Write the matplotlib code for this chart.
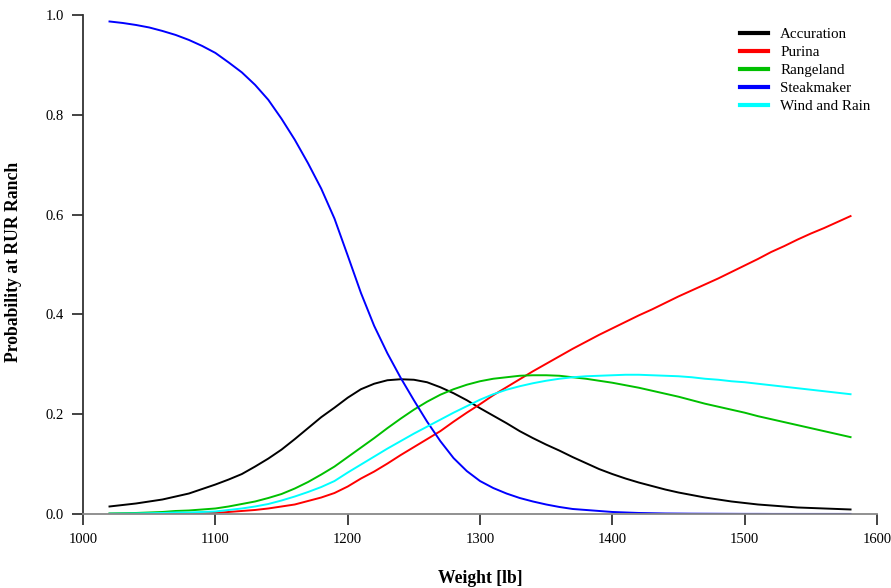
import numpy as np
import matplotlib.pyplot as plt

plt.rcParams['font.family'] = ['Liberation Serif', 'DejaVu Serif']

# Weight grid (lb), 1020 to 1580 every 10 lb
weight = list(range(1020, 1590, 10))

# Predicted probabilities
accuration = [0.015, 0.018, 0.021, 0.025, 0.029, 0.035, 0.041, 0.050, 0.059, 0.069,
              0.080, 0.095, 0.111, 0.129, 0.150, 0.172, 0.194, 0.213, 0.233, 0.250,
              0.261, 0.268, 0.270, 0.269, 0.264, 0.254, 0.242, 0.228, 0.212, 0.197,
              0.182, 0.166, 0.152, 0.139, 0.127, 0.114, 0.102, 0.090, 0.080, 0.071,
              0.063, 0.056, 0.049, 0.043, 0.038, 0.033, 0.029, 0.025, 0.022, 0.019,
              0.017, 0.015, 0.013, 0.012, 0.011, 0.010, 0.009]
purina = [0.0003, 0.0003, 0.0004, 0.0005, 0.0007, 0.0008, 0.001, 0.0012, 0.002, 0.004,
          0.006, 0.008, 0.011, 0.015, 0.019, 0.026, 0.033, 0.042, 0.055, 0.071,
          0.085, 0.101, 0.118, 0.134, 0.150, 0.166, 0.185, 0.203, 0.220, 0.238,
          0.254, 0.270, 0.286, 0.301, 0.316, 0.331, 0.345, 0.359, 0.372, 0.385,
          0.398, 0.410, 0.423, 0.436, 0.448, 0.460, 0.472, 0.485, 0.498, 0.511,
          0.525, 0.537, 0.550, 0.562, 0.573, 0.585, 0.597]
rangeland = [0.001, 0.0015, 0.002, 0.003, 0.004, 0.006, 0.007, 0.009, 0.011, 0.015,
             0.020, 0.025, 0.032, 0.040, 0.051, 0.064, 0.079, 0.095, 0.114, 0.133,
             0.152, 0.172, 0.191, 0.209, 0.225, 0.239, 0.250, 0.259, 0.266, 0.271,
             0.274, 0.277, 0.278, 0.278, 0.277, 0.274, 0.271, 0.267, 0.263, 0.258,
             0.253, 0.247, 0.241, 0.235, 0.228, 0.221, 0.215, 0.209, 0.203, 0.196,
             0.190, 0.184, 0.178, 0.172, 0.166, 0.160, 0.154]
steakmaker = [0.987, 0.984, 0.980, 0.975, 0.968, 0.960, 0.950, 0.938, 0.924, 0.905,
              0.885, 0.860, 0.830, 0.792, 0.750, 0.703, 0.652, 0.592, 0.518, 0.443,
              0.377, 0.322, 0.273, 0.228, 0.185, 0.146, 0.112, 0.086, 0.066, 0.052,
              0.041, 0.032, 0.025, 0.019, 0.014, 0.010, 0.008, 0.006, 0.004, 0.003,
              0.002, 0.0015, 0.001, 0.0008, 0.0006, 0.0005, 0.0004, 0.0003, 0.0002, 0.0002,
              0.0001, 0.0001, 0.0001, 0.0001, 0.0001, 0.0001, 0.0001]
wind_rain = [0.0005, 0.0007, 0.001, 0.0015, 0.002, 0.003, 0.003, 0.004, 0.005, 0.008,
             0.011, 0.015, 0.020, 0.027, 0.035, 0.044, 0.054, 0.066, 0.083, 0.099,
             0.115, 0.131, 0.146, 0.161, 0.175, 0.189, 0.203, 0.216, 0.229, 0.240,
             0.249, 0.256, 0.262, 0.267, 0.271, 0.274, 0.276, 0.277, 0.278, 0.279,
             0.279, 0.278, 0.277, 0.276, 0.274, 0.271, 0.269, 0.266, 0.264, 0.261,
             0.258, 0.255, 0.252, 0.249, 0.246, 0.243, 0.240]

series = [("Accuration", accuration, "black"),
          ("Purina", purina, "#ff0000"),
          ("Rangeland", rangeland, "#00c000"),
          ("Steakmaker", steakmaker, "#0000ff"),
          ("Wind and Rain", wind_rain, "#00ffff")]

fig = plt.figure(figsize=(8.91, 5.88), dpi=100)
ax = fig.add_axes([0.0932, 0.1259, 0.8911, 0.8486])

for name, vals, col in series:
    ax.plot(weight, vals, color=col, linewidth=1.4, label=name)

ax.set_xlim(1000, 1600)
ax.set_ylim(0, 1.0)
ax.set_xticks([1000, 1100, 1200, 1300, 1400, 1500, 1600])
ax.set_yticks([0.0, 0.2, 0.4, 0.6, 0.8, 1.0])
ax.set_yticklabels(['0.0', '0.2', '0.4', '0.6', '0.8', '1.0'])
ax.tick_params(direction='out', length=8, width=1.2, labelsize=10.5, color='#222222', pad=6)

for s in ['top', 'right']:
    ax.spines[s].set_visible(False)
ax.spines['left'].set_color('#333333')
ax.spines['bottom'].set_color('#888888')
ax.spines['left'].set_linewidth(1.3)
ax.spines['bottom'].set_linewidth(1.3)

ax.set_xlabel('Weight [lb]', fontsize=12.7, fontweight='bold', labelpad=17)
ax.set_ylabel('Probability at RUR Ranch', fontsize=12.7, fontweight='bold')
ax.yaxis.set_label_coords(-0.077, 0.505)

leg = ax.legend(loc='upper right', bbox_to_anchor=(1.009, 1.002), frameon=False,
                fontsize=10.8, handlelength=1.9, handletextpad=0.8, labelspacing=0.3)
for line in leg.get_lines():
    line.set_linewidth(3)

fig.savefig('out.png', dpi=100)
